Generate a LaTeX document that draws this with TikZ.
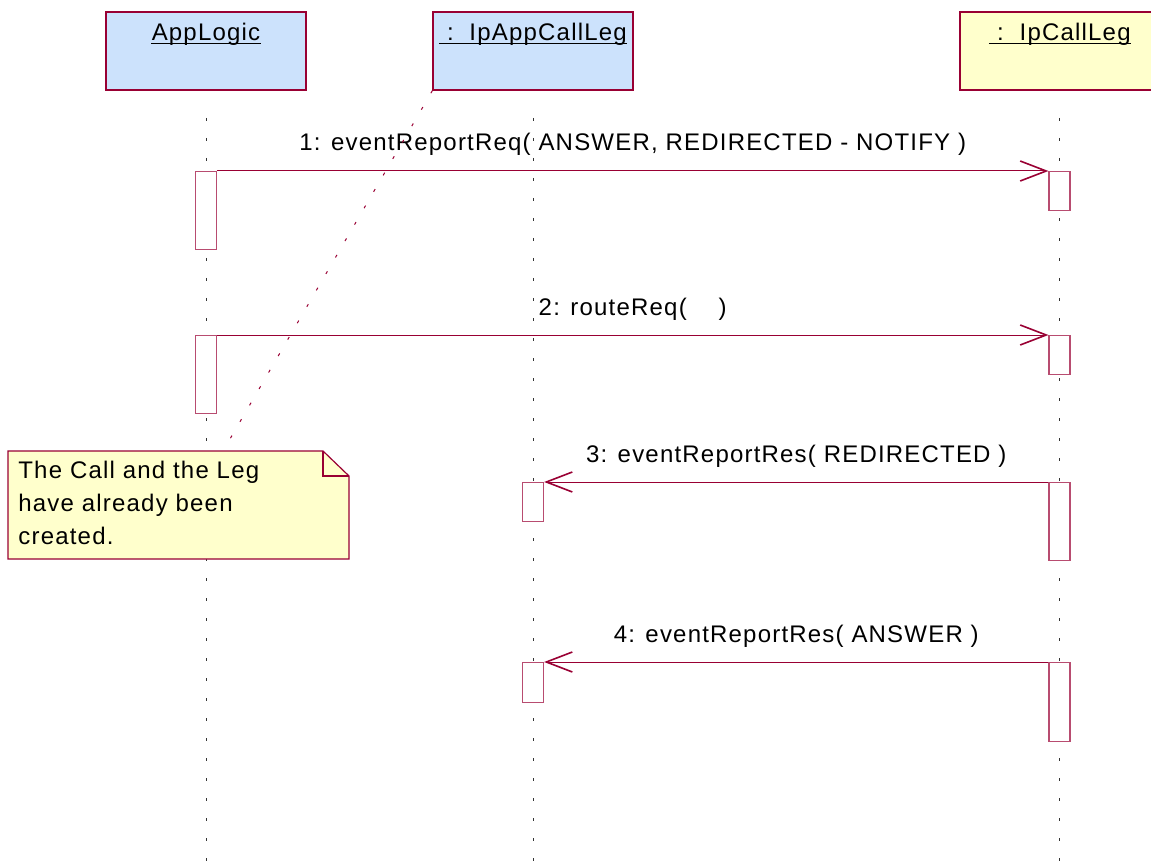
\documentclass[tikz,border=0pt]{standalone}
\usepackage{fontspec}
\setmainfont{Liberation Sans}[LetterSpace=5]
\usepackage{tikz}
\usetikzlibrary{arrows.meta}
\definecolor{umlred}{RGB}{153,0,51}
\definecolor{headblue}{RGB}{204,226,252}
\definecolor{headyellow}{RGB}{255,255,204}
\tikzset{>={Straight Barb[length=13pt,width=10pt,line width=0.8pt]},
  headbox/.style={draw=umlred, line width=0.6pt, minimum width=100pt,
    minimum height=39pt, inner sep=0pt},
  headlabel/.style={anchor=base, inner sep=0pt},
  underln/.style={black, line width=0.5pt},
  lifeline/.style={black!80, line width=0.5pt, dash pattern=on 1.5pt off 8.5pt},
  actbox/.style={draw=umlred!70, fill=white, line width=0.6pt, anchor=north,
    minimum width=10.5pt, inner sep=0pt},
  msg/.style={->, umlred, line width=0.5pt},
  msglabel/.style={anchor=base, yshift=10pt, inner sep=0pt, text=black},
  notelink/.style={umlred, line width=0.5pt, dash pattern=on 1.5pt off 8pt}}

\begin{document}
\begin{tikzpicture}[x=0.5pt, y=-0.5pt, font=\fontsize{12}{16.5}\selectfont]

  \useasboundingbox (0,0) rectangle (1151,861);
  \clip (0,0) rectangle (1151,861);

  % objects
  \node[headbox, fill=headblue] (applogic) at (206,51) {};
  \node[headbox, fill=headblue] (ipappcallleg) at (533,51) {};
  \node[headbox, fill=headyellow] (ipcallleg) at (1060,51) {};
  \node[headlabel] (applogic-lbl) at (206,41) {AppLogic};
  \node[headlabel] (ipappcallleg-lbl) at (533,41) {\ :\ \ IpAppCallLeg};
  \node[headlabel] (ipcallleg-lbl) at (1060,41) {\ :\ \ IpCallLeg};
  \foreach \n in {applogic,ipappcallleg,ipcallleg}
    \draw [underln] ([yshift=-1.2pt]\n-lbl.base west) -- ([yshift=-1.2pt]\n-lbl.base east);

  % lifelines
  \coordinate (applogic-top) at (206,118);
  \coordinate (applogic-end) at (206,861);
  \coordinate (ipappcallleg-top) at (533,118);
  \coordinate (ipappcallleg-end) at (533,861);
  \coordinate (ipcallleg-top) at (1059,118);
  \coordinate (ipcallleg-end) at (1059,861);
  \draw [lifeline] (applogic-top) -- (applogic-end);
  \draw [lifeline] (ipappcallleg-top) -- (ipappcallleg-end);
  \draw [lifeline] (ipcallleg-top) -- (ipcallleg-end);

  % activations
  \node[actbox, minimum height=39pt] (act1a) at (206,171) {};
  \node[actbox, minimum height=19.5pt] (act1b) at (1059.5,171) {};
  \node[actbox, minimum height=39pt] (act2a) at (206,335) {};
  \node[actbox, minimum height=19.5pt] (act2b) at (1059.5,335) {};
  \node[actbox, minimum height=39pt] (act3b) at (1059.5,482) {};
  \node[actbox, minimum height=19.5pt] (act3a) at (533,482) {};
  \node[actbox, minimum height=39.5pt] (act4b) at (1059.5,662) {};
  \node[actbox, minimum height=20pt] (act4a) at (533,662) {};

  % messages
  \draw [msg] (act1a.north east) -- (act1b.north west)
    node[msglabel, midway] (msg1) {1: eventReportReq( ANSWER, REDIRECTED - NOTIFY )};
  \draw [msg] (act2a.north east) -- (act2b.north west)
    node[msglabel, midway] (msg2) {2: routeReq(\hspace{16pt})};
  \draw [msg] (act3b.north west) -- (act3a.north east)
    node[msglabel, midway] (msg3) {3: eventReportRes( REDIRECTED )};
  \draw [msg] (act4b.north west) -- (act4a.north east)
    node[msglabel, midway] (msg4) {4: eventReportRes( ANSWER )};

  % note
  \coordinate (note-link) at (223,451);
  \draw [notelink] (ipappcallleg.south west) -- (note-link);
  \draw [umlred, line width=0.6pt, fill=headyellow]
    (8,451) -- (323,451) -- (349,476) -- (349,559) -- (8,559) -- cycle;
  \draw [umlred, line width=0.6pt] (323,451) -- (323,476) -- (349,476);
  \node[anchor=north west, align=left, inner sep=0pt] (note) at (18,461)
    {The Call and the Leg\\have already been\\created.};

\end{tikzpicture}
\end{document}
